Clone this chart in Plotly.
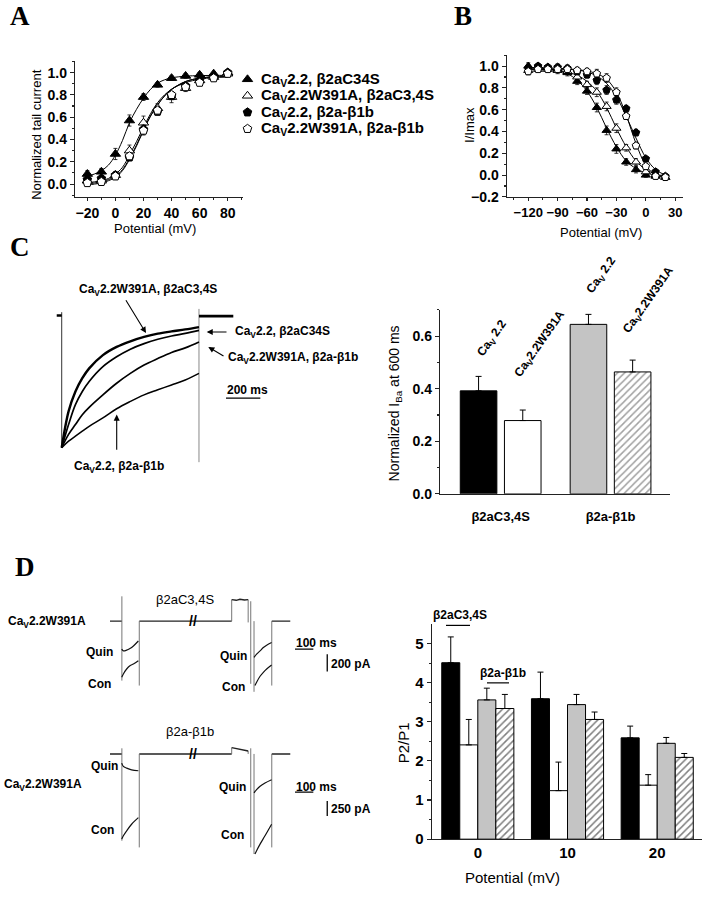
import plotly.graph_objects as go

W, H = 706, 899
FONT = "Liberation Sans"
SERIF = "Liberation Serif"

# ---------------- Panel A: activation ----------------
A_V = [-20, -10, 0, 10, 20, 30, 40, 50, 60, 70, 80]
A_TRI_F = [0.09, 0.11, 0.27, 0.57, 0.78, 0.89, 0.95, 0.97, 0.98, 0.99, 1.00]
A_TRI_F_ERR = [0.03, 0.03, 0.05, 0.05, 0.03, 0.02, 0.02, 0.02, 0.02, 0.01, 0.01]
A_TRI_O = [0.03, 0.03, 0.08, 0.30, 0.55, 0.68, 0.78, 0.86, 0.93, 0.96, 0.99]
A_TRI_O_ERR = [0.03, 0.03, 0.03, 0.05, 0.06, 0.04, 0.05, 0.03, 0.02, 0.02, 0.01]
A_PEN_F = [0.04, 0.05, 0.08, 0.24, 0.49, 0.65, 0.79, 0.88, 0.93, 0.96, 1.00]
A_PEN_F_ERR = [0.02, 0.02, 0.03, 0.03, 0.04, 0.03, 0.03, 0.02, 0.02, 0.01, 0.01]
A_PEN_O = [0.01, 0.02, 0.07, 0.25, 0.48, 0.66, 0.80, 0.87, 0.91, 0.95, 0.99]
A_PEN_O_ERR = [0.02, 0.02, 0.03, 0.03, 0.04, 0.03, 0.03, 0.03, 0.02, 0.02, 0.01]
A_NAMES = ["Ca<sub>V</sub>2.2, β2aC34S", "Ca<sub>V</sub>2.2W391A, β2aC3,4S",
           "Ca<sub>V</sub>2.2, β2a-β1b", "Ca<sub>V</sub>2.2W391A, β2a-β1b"]

A_FIT_V = [-20, -15, -10, -5, 0, 5, 10, 15, 20, 25, 30, 35, 40, 50, 60, 70, 80]
A_FIT_TRI_F = [0.07, 0.09, 0.12, 0.17, 0.26, 0.39, 0.55, 0.67, 0.77, 0.85, 0.905, 0.935, 0.953, 0.968, 0.973, 0.975, 0.975]
A_FIT_TRI_O = [0.01, 0.02, 0.03, 0.05, 0.09, 0.15, 0.26, 0.38, 0.51, 0.63, 0.73, 0.80, 0.85, 0.92, 0.95, 0.965, 0.97]
A_FIT_PEN_F = [0.00, 0.01, 0.02, 0.04, 0.07, 0.13, 0.23, 0.35, 0.49, 0.61, 0.71, 0.79, 0.85, 0.92, 0.95, 0.96, 0.965]
A_FIT_PEN_O = [-0.01, 0.00, 0.01, 0.03, 0.06, 0.12, 0.22, 0.34, 0.48, 0.61, 0.71, 0.79, 0.85, 0.91, 0.94, 0.955, 0.96]

# ---------------- Panel B: inactivation ----------------
B_V = [-120, -110, -100, -90, -80, -70, -60, -50, -40, -30, -20, -10, 0, 10, 20]
B_TRI_F = [1.00, 1.00, 0.99, 0.97, 0.94, 0.86, 0.77, 0.62, 0.41, 0.24, 0.12, 0.05, 0.00, -0.01, -0.02]
B_TRI_O = [0.96, 0.97, 0.97, 0.96, 0.95, 0.90, 0.83, 0.76, 0.63, 0.43, 0.25, 0.12, 0.03, 0.00, -0.02]
B_PEN_F = [0.98, 1.00, 0.99, 0.99, 0.98, 0.95, 0.92, 0.87, 0.78, 0.69, 0.61, 0.39, 0.15, 0.03, -0.01]
B_PEN_O = [0.95, 0.97, 0.97, 0.97, 0.97, 0.96, 0.95, 0.93, 0.89, 0.76, 0.54, 0.27, 0.08, -0.01, -0.02]
B_ERR = [0.03, 0.02, 0.02, 0.03, 0.03, 0.03, 0.03, 0.04, 0.04, 0.04, 0.03, 0.03, 0.02, 0.02, 0.02]
B_FIT_TRI_F = [0.985, 0.98, 0.975, 0.96, 0.93, 0.87, 0.77, 0.62, 0.43, 0.26, 0.13, 0.06, 0.02, 0.00, -0.01]
B_FIT_TRI_O = [0.97, 0.97, 0.965, 0.96, 0.945, 0.915, 0.86, 0.77, 0.62, 0.43, 0.26, 0.13, 0.05, 0.01, -0.01]
B_FIT_PEN_F = [0.985, 0.985, 0.985, 0.98, 0.975, 0.965, 0.945, 0.91, 0.84, 0.72, 0.54, 0.34, 0.16, 0.05, 0.00]
B_FIT_PEN_O = [0.97, 0.97, 0.97, 0.97, 0.97, 0.965, 0.955, 0.93, 0.88, 0.76, 0.55, 0.29, 0.09, 0.00, -0.02]

# ---------------- Panel C: current traces (normalized) ----------------
C_T = [0, 40, 80, 120, 160, 240, 320, 400, 480, 560, 640, 720, 800]
C_W391A_C34 = [-1, -0.724, -0.573, -0.472, -0.397, -0.296, -0.234, -0.191, -0.158, -0.133, -0.116, -0.101, -0.083]
C_WT_C34 = [-1, -0.824, -0.673, -0.573, -0.497, -0.384, -0.309, -0.251, -0.209, -0.176, -0.151, -0.131, -0.108]
C_W391A_B1B = [-1, -0.899, -0.824, -0.749, -0.693, -0.598, -0.510, -0.435, -0.372, -0.322, -0.276, -0.241, -0.196]
C_WT_B1B = [-1, -0.950, -0.912, -0.874, -0.837, -0.774, -0.704, -0.648, -0.598, -0.560, -0.523, -0.485, -0.435]
C_ON_T, C_ON_TOP, C_ON_BOT = 0, 0.03, -1.0
C_OFF_T, C_OFF_TOP, C_OFF_BOT = 800, 0.055, -1.11
C_TAIL_T = [800, 1000]
C_PRE_T = [-29, 0]

# ---------------- Panel C: bars ----------------
C_GROUPS = ["β2aC3,4S", "β2a-β1b"]
C_WT = [0.392, 0.645]
C_WT_ERR = [0.055, 0.038]
C_MUT = [0.279, 0.464]
C_MUT_ERR = [0.040, 0.045]

# ---------------- Panel D: traces (ms, pA) ----------------
D_BASE_T0 = [0, 160, 884]
D_BASE_T1 = [65, 665, 985]
D_TOP_VT = [65, 160, 665, 755, 769, 787, 884]
D_TOP_VHI = [286, 0, 248, 248, 229, 0, 0]
D_TOP_VLO = [-686, -743, 0, -15, -723, -815, -743]
D_TOP_PRE_T = [665, 690, 710, 735, 755]
D_TOP_PRE_I = [248, 240, 252, 243, 248]
D_TOP_Q1_T = [64, 73, 91, 109, 128, 155]
D_TOP_Q1_I = [-323, -343, -335, -316, -286, -229]
D_TOP_C1_T = [64, 73, 91, 109, 128, 155]
D_TOP_C1_I = [-647, -609, -552, -514, -495, -457]
D_TOP_Q2_T = [787, 801, 820, 838, 856, 883]
D_TOP_Q2_I = [-419, -381, -343, -305, -278, -247]
D_TOP_C2_T = [792, 801, 820, 838, 856, 883]
D_TOP_C2_I = [-743, -705, -636, -590, -552, -506]

D_BOT_VT = [65, 160, 665, 755, 769, 787, 884]
D_BOT_VHI = [95, 0, 107, 50, 95, 0, 0]
D_BOT_VLO = [-1460, -1572, 0, 0, -1572, -1683, -1572]
D_BOT_PRE_T = [665, 755]
D_BOT_PRE_I = [107, 50]
D_BOT_Q1_T = [64, 73, 91, 118, 155]
D_BOT_Q1_I = [-155, -210, -238, -267, -283]
D_BOT_C1_T = [64, 73, 91, 118, 155]
D_BOT_C1_I = [-1433, -1377, -1293, -1183, -1072]
D_BOT_Q2_T = [787, 801, 820, 847, 883]
D_BOT_Q2_I = [-655, -600, -543, -488, -433]
D_BOT_C2_T = [792, 801, 820, 847, 883]
D_BOT_C2_I = [-1683, -1627, -1517, -1377, -1183]
D_BREAK_T = 455

# ---------------- Panel D: bars ----------------
D_POT = ["0", "10", "20"]
D_C34_WT = [4.51, 3.59, 2.59]
D_C34_WT_ERR = [0.66, 0.68, 0.30]
D_C34_MUT = [2.41, 1.24, 1.38]
D_C34_MUT_ERR = [0.65, 0.73, 0.27]
D_B1B_WT = [3.56, 3.44, 2.45]
D_B1B_WT_ERR = [0.30, 0.26, 0.15]
D_B1B_MUT = [3.34, 3.06, 2.09]
D_B1B_MUT_ERR = [0.36, 0.19, 0.10]


def fx(px):
    return px / W


def fy(py):
    return 1 - py / H


fig = go.Figure()


def segs(t, hi, lo):
    xs, ys = [], []
    for a, b, c in zip(t, hi, lo):
        xs += [a, a, None]
        ys += [b, c, None]
    return xs, ys


def line(x, y, ax, w=1.0, color="black", shape="linear"):
    fig.add_trace(go.Scatter(x=x, y=y, mode="lines", xaxis="x" + ax, yaxis="y" + ax,
                             line=dict(color=color, width=w, shape=shape),
                             showlegend=False, hoverinfo="skip"))


SYMS = ["triangle-up", "triangle-up", "pentagon", "pentagon"]
FILLS = ["black", "white", "black", "white"]
HATCH = dict(fgcolor="black", bgcolor="white", size=5, solidity=0.3)

# ---- Panel A ----
for fit in [A_FIT_TRI_F, A_FIT_TRI_O, A_FIT_PEN_F, A_FIT_PEN_O]:
    fig.add_trace(go.Scatter(x=A_FIT_V, y=fit, mode="lines", line=dict(color="black", width=1, shape="spline"),
                             showlegend=False, hoverinfo="skip", xaxis="x", yaxis="y"))

for name, ys, err, sym, col in zip(A_NAMES, [A_TRI_F, A_TRI_O, A_PEN_F, A_PEN_O],
                                   [A_TRI_F_ERR, A_TRI_O_ERR, A_PEN_F_ERR, A_PEN_O_ERR], SYMS, FILLS):
    fig.add_trace(go.Scatter(x=A_V, y=ys, mode="markers", name=name, xaxis="x", yaxis="y", showlegend=False,
                             marker=dict(symbol=sym, size=9, color=col, line=dict(color="black", width=1)),
                             error_y=dict(type="data", array=err, thickness=0.8, width=2, color="black")))

# legend keys (one per series, stacked in legend order)
fig.add_trace(go.Scatter(x=[0] * len(A_NAMES), y=list(range(len(A_NAMES))), mode="markers",
                         xaxis="x8", yaxis="y8", showlegend=False, hoverinfo="skip",
                         marker=dict(symbol=SYMS, size=9, color=FILLS, line=dict(color="black", width=1))))

# ---- Panel B ----
for fit in [B_FIT_TRI_F, B_FIT_TRI_O, B_FIT_PEN_F, B_FIT_PEN_O]:
    fig.add_trace(go.Scatter(x=B_V, y=fit, mode="lines", line=dict(color="black", width=1, shape="spline"),
                             showlegend=False, hoverinfo="skip", xaxis="x2", yaxis="y2"))
for ys, sym, col in zip([B_TRI_F, B_TRI_O, B_PEN_F, B_PEN_O], SYMS, FILLS):
    fig.add_trace(go.Scatter(x=B_V, y=ys, mode="markers", xaxis="x2", yaxis="y2", showlegend=False,
                             marker=dict(symbol=sym, size=8, color=col, line=dict(color="black", width=1)),
                             error_y=dict(type="data", array=B_ERR, thickness=0.8, width=2, color="black")))

# ---- Panel C traces ----
line([C_ON_T, C_ON_T], [C_ON_TOP, C_ON_BOT], "3", w=1.0, color="#333")
line([C_OFF_T, C_OFF_T], [C_OFF_TOP, C_OFF_BOT], "3", w=1.0, color="#888")
line(C_TAIL_T, [0, 0], "3", w=2.6)
line(C_PRE_T, [0.005, 0.005], "3", w=2.6)
line(C_T, C_W391A_C34, "3", w=2.4, shape="spline")
line(C_T, C_WT_C34, "3", w=1.7, shape="spline")
line(C_T, C_W391A_B1B, "3", w=1.7, shape="spline")
line(C_T, C_WT_B1B, "3", w=1.5, shape="spline")

# ---- Panel C bars ----
fig.add_trace(go.Bar(x=C_GROUPS, y=C_WT, xaxis="x4", yaxis="y4", showlegend=False, width=0.333,
                     marker=dict(color=["black", "#c4c4c4"], line=dict(color="black", width=1)),
                     error_y=dict(type="data", array=C_WT_ERR, arrayminus=[0, 0], symmetric=False,
                                  thickness=1, width=3, color="black")))
fig.add_trace(go.Bar(x=C_GROUPS, y=C_MUT, xaxis="x4", yaxis="y4", showlegend=False, width=0.333,
                     marker=dict(color=["white", "white"], line=dict(color="black", width=1),
                                 pattern=dict(HATCH, shape=["", "/"])),
                     error_y=dict(type="data", array=C_MUT_ERR, arrayminus=[0, 0], symmetric=False,
                                  thickness=1, width=3, color="black")))

# ---- Panel D traces ----
for ax, vt, vhi, vlo, pre_t, pre_i, q1t, q1i, c1t, c1i, q2t, q2i, c2t, c2i in [
    ("5", D_TOP_VT, D_TOP_VHI, D_TOP_VLO, D_TOP_PRE_T, D_TOP_PRE_I, D_TOP_Q1_T, D_TOP_Q1_I,
     D_TOP_C1_T, D_TOP_C1_I, D_TOP_Q2_T, D_TOP_Q2_I, D_TOP_C2_T, D_TOP_C2_I),
    ("6", D_BOT_VT, D_BOT_VHI, D_BOT_VLO, D_BOT_PRE_T, D_BOT_PRE_I, D_BOT_Q1_T, D_BOT_Q1_I,
     D_BOT_C1_T, D_BOT_C1_I, D_BOT_Q2_T, D_BOT_Q2_I, D_BOT_C2_T, D_BOT_C2_I),
]:
    bx, by = [], []
    for a, b in zip(D_BASE_T0, D_BASE_T1):
        bx += [a, b, None]
        by += [0, 0, None]
    line(bx, by, ax, w=1.4, color="#222")
    vx, vy = segs(vt, vhi, vlo)
    line(vx, vy, ax, w=0.9, color="#666")
    line(pre_t, pre_i, ax, w=1.4, color="#222")
    for tt, ii in [(q1t, q1i), (c1t, c1i), (q2t, q2i), (c2t, c2i)]:
        line(tt, ii, ax, w=1.2, color="#111", shape="spline")

# ---- Panel D bars ----
d_bars = [
    (D_C34_WT, D_C34_WT_ERR, "black", ""),
    (D_C34_MUT, D_C34_MUT_ERR, "white", ""),
    (D_B1B_WT, D_B1B_WT_ERR, "#c4c4c4", ""),
    (D_B1B_MUT, D_B1B_MUT_ERR, "white", "/"),
]
for ys, err, col, pat in d_bars:
    fig.add_trace(go.Bar(x=D_POT, y=ys, xaxis="x7", yaxis="y7", showlegend=False,
                         marker=dict(color=col, line=dict(color="black", width=1),
                                     pattern=dict(HATCH, shape=pat)),
                         error_y=dict(type="data", array=err, arrayminus=[0, 0, 0], symmetric=False,
                                      thickness=1, width=3, color="black")))

# ---------------- Layout ----------------
AXC = "#222"
tickf = dict(family=FONT, size=14, color="black", weight="bold")


def data_axis(dom, rng, **kw):
    d = dict(domain=dom, range=rng, showline=True, linecolor=AXC, linewidth=1.2, ticks="outside",
             ticklen=4, tickwidth=1.1, tickcolor=AXC, showgrid=False, zeroline=False,
             tickfont=tickf, fixedrange=True, tickangle=0)
    d.update(kw)
    return d


hidden = dict(visible=False, showgrid=False, zeroline=False, fixedrange=True)

LEG_TOP, LEG_BOT = 71.7, 138.3
layout = dict(
    width=W, height=H, margin=dict(l=0, r=0, t=0, b=0),
    paper_bgcolor="white", plot_bgcolor="rgba(0,0,0,0)",
    barmode="group",
    showlegend=False,
    # A
    xaxis=data_axis([fx(75), fx(243)], [-28.8, 90.9], anchor="y", tickvals=[-20, 0, 20, 40, 60, 80],
                    ticklen=3, minor=dict(dtick=10, tick0=0, ticks="outside", ticklen=2, tickcolor=AXC)),
    yaxis=data_axis([fy(199), fy(62)], [-0.118, 1.10], anchor="x", tickvals=[0, 0.2, 0.4, 0.6, 0.8, 1.0],
                    tickformat=".1f", minor=dict(dtick=0.1, tick0=0, ticks="outside", ticklen=2, tickcolor=AXC)),
    # B
    xaxis2=data_axis([fx(506.7), fx(683)], [-142, 38], anchor="y2", tickvals=[-120, -90, -60, -30, 0, 30],
                     ticklen=3, tickfont=dict(family=FONT, size=13, color="black", weight="bold"),
                     minor=dict(dtick=15, tick0=0, ticks="outside", ticklen=2, tickcolor=AXC)),
    yaxis2=data_axis([fy(199), fy(55)], [-0.203, 1.106], anchor="x2",
                     tickvals=[-0.2, 0, 0.2, 0.4, 0.6, 0.8, 1.0], tickformat=".1f",
                     minor=dict(dtick=0.1, tick0=0, ticks="outside", ticklen=2, tickcolor=AXC)),
    # C traces
    xaxis3=dict(hidden, domain=[fx(40), fx(290)], range=[-126.5, 1330.4], anchor="y3"),
    yaxis3=dict(hidden, domain=[fy(480), fy(300)], range=[-1.213, 0.143], anchor="x3"),
    # C bars
    xaxis4=data_axis([fx(440), fx(670)], [-0.552, 1.541], anchor="y4", ticks="",
                     tickvals=C_GROUPS, ticktext=C_GROUPS, ticklabelstandoff=10,
                     tickfont=dict(family=FONT, size=13, color="black", weight="bold")),
    yaxis4=data_axis([fy(498.3), fy(312.7)], [0, 0.70], anchor="x4", tickvals=[0, 0.2, 0.4, 0.6],
                     tickformat=".1f", minor=dict(dtick=0.1, tick0=0, ticks="outside", ticklen=2, tickcolor=AXC)),
    # D traces
    xaxis5=dict(hidden, domain=[fx(100), fx(360)], range=[-54.6, 1366], anchor="y5"),
    yaxis5=dict(hidden, domain=[fy(705), fy(595)], range=[-894.9, 362.3], anchor="x5"),
    xaxis6=dict(hidden, domain=[fx(100), fx(360)], range=[-54.6, 1366], anchor="y6"),
    yaxis6=dict(hidden, domain=[fy(870), fy(745)], range=[-1822, 262], anchor="x6"),
    # D bars
    xaxis7=data_axis([fx(431.7), fx(701.7)], [-0.514, 2.496], anchor="y7", ticks="",
                     tickfont=dict(family=FONT, size=15, color="black", weight="bold")),
    yaxis7=data_axis([fy(846.7), fy(630)], [0, 5.49], anchor="x7", tickvals=[0, 1, 2, 3, 4, 5],
                     tickfont=dict(family=FONT, size=15, color="black", weight="bold"),
                     minor=dict(dtick=0.5, tick0=0, ticks="outside", ticklen=2, tickcolor=AXC)),
    # legend key axis for panel A
    xaxis8=dict(hidden, domain=[fx(240), fx(255)], range=[-1, 1], anchor="y8"),
    yaxis8=dict(hidden, domain=[fy(LEG_BOT), fy(LEG_TOP)], range=[len(A_NAMES) - 0.5, -0.5], anchor="x8"),
    bargap=0.196, bargroupgap=0,
)
fig.update_layout(**layout)

anns = []


def ann(text, px, py, size=12, bold=True, xanchor="center", angle=0, family=FONT):
    anns.append(dict(text=("<b>%s</b>" % text) if bold else text, x=fx(px), y=fy(py), xref="paper",
                     yref="paper", showarrow=False, xanchor=xanchor, yanchor="middle", textangle=angle,
                     font=dict(family=family, size=size, color="black")))


def arrow(tail, head):
    anns.append(dict(text="", x=fx(head[0]), y=fy(head[1]), xref="paper", yref="paper",
                     ax=tail[0] - head[0], ay=tail[1] - head[1], showarrow=True, arrowhead=2,
                     arrowsize=1.1, arrowwidth=1.1, arrowcolor="black", standoff=0, startstandoff=0))


# panel letters
ann("A", 20, 16, size=27, family=SERIF)
ann("B", 463, 16, size=27, family=SERIF)
ann("C", 20, 249, size=27, family=SERIF)
ann("D", 25, 572, size=27, family=SERIF)

# legend texts of panel A (rows share the legend-key axis spacing)
row_h = (LEG_BOT - LEG_TOP) / len(A_NAMES)
for i, name in enumerate(A_NAMES):
    ann(name, 259, LEG_TOP + (i + 0.5) * row_h, size=15, xanchor="left")

# axis titles
ann("Normalized tail current", 37, 136, size=13, bold=False, angle=-90)
ann("Potential (mV)", 155, 231, size=13, bold=False)
ann("I/Imax", 470, 126, size=13, bold=False, angle=-90)
ann("Potential (mV)", 601, 235, size=13, bold=False)
ann("Normalized I<sub>Ba</sub> at 600 ms", 395, 407, size=14, bold=False, angle=-90)
ann("P2/P1", 403, 750, size=15, bold=False, angle=-90)
ann("Potential (mV)", 512, 885, size=15, bold=False)

# panel C trace labels
ann("Ca<sub>V</sub>2.2W391A, β2aC3,4S", 148, 293, size=12)
ann("Ca<sub>V</sub>2.2, β2aC34S", 233, 335, size=12, xanchor="left")
ann("Ca<sub>V</sub>2.2W391A, β2a-β1b", 226, 361, size=12, xanchor="left")
ann("Ca<sub>V</sub>2.2, β2a-β1b", 72, 471, size=12, xanchor="left")
ann("200 ms", 225, 393, size=12, xanchor="left")
arrow((125, 301.7), (146, 336))
arrow((228, 335), (206.7, 335))
arrow((225, 360), (208.3, 350))
arrow((116.7, 455), (116.7, 418.3))

# panel C bar labels
ann("Ca<sub>V</sub> 2.2", 492, 342, size=12, angle=-55)
ann("Ca<sub>V</sub>2.2W391A", 540, 347, size=12, angle=-55)
ann("Ca<sub>V</sub> 2.2", 601, 278, size=12, angle=-55)
ann("Ca<sub>V</sub>2.2W391A", 649, 303, size=12, angle=-55)

# panel D trace labels
ann("Ca<sub>V</sub>2.2W391A", 6, 628, size=12, xanchor="left")
ann("Quin", 99, 658, size=12)
ann("Con", 99, 690, size=12)
ann("β2aC3,4S", 185, 605, size=13, bold=False)
ann("Quin", 233, 662, size=12)
ann("Con", 233, 693, size=12)
ann("100 ms", 294, 649, size=12, xanchor="left")
ann("200 pA", 329, 670, size=12, xanchor="left")
ann("β2a-β1b", 190, 738, size=13, bold=False)
ann("Quin", 104, 773, size=12)
ann("Ca<sub>V</sub>2.2W391A", 2, 792, size=12, xanchor="left")
ann("Con", 102, 837, size=12)
ann("Quin", 232, 794, size=12)
ann("Con", 232, 843, size=12)
ann("100 ms", 294, 794, size=12, xanchor="left")
ann("250 pA", 329, 816, size=12, xanchor="left")
for a5 in ("5", "6"):
    anns.append(dict(text="<b>//</b>", x=D_BREAK_T, y=0, xref="x" + a5, yref="y" + a5, showarrow=False,
                     font=dict(family=FONT, size=14, color="black")))

# panel D bar labels
ann("β2aC3,4S", 460, 621, size=12)
ann("β2a-β1b", 503, 679, size=12)

fig.update_layout(annotations=anns)

shapes = [
    # C scale bar 200 ms
    dict(type="line", xref="x3", yref="y3", x0=957.5, x1=1157.5, y0=-0.623, y1=-0.623,
         line=dict(color="black", width=1.3)),
    # D top scale bars
    dict(type="line", xref="x5", yref="y5", x0=1011, x1=1111, y0=-323, y1=-323, line=dict(color="black", width=1.3)),
    dict(type="line", xref="x5", yref="y5", x0=1187, x1=1187, y0=-381, y1=-581, line=dict(color="black", width=1.3)),
    # D bottom scale bars
    dict(type="line", xref="x6", yref="y6", x0=1011, x1=1111, y0=-643, y1=-643, line=dict(color="black", width=1.3)),
    dict(type="line", xref="x6", yref="y6", x0=1187, x1=1187, y0=-793, y1=-1043, line=dict(color="black", width=1.3)),
    # D bar group markers
    dict(type="line", xref="paper", yref="paper", x0=fx(446), x1=fx(470), y0=fy(631), y1=fy(631),
         line=dict(color="black", width=1.2)),
    dict(type="line", xref="paper", yref="paper", x0=fx(487), x1=fx(509), y0=fy(689), y1=fy(689),
         line=dict(color="black", width=1.2)),
]
fig.update_layout(shapes=shapes)

fig.write_html("out.html", config={"displayModeBar": False, "staticPlot": True},
               post_script="document.body.style.margin='0';document.body.style.overflow='hidden';")
